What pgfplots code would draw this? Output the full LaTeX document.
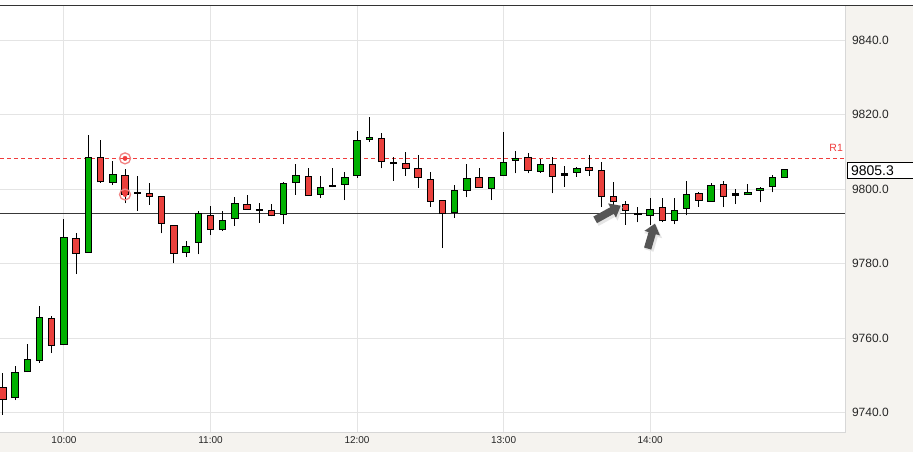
\documentclass[border=0pt]{standalone}
\usepackage{pgfplots}
\pgfplotsset{compat=1.18}
\usepackage{pgfplotstable}
\usepackage{fontspec}
\setmainfont{Liberation Sans}
\usetikzlibrary{arrows.meta}
\definecolor{panel}{RGB}{245,243,239}
\definecolor{gridc}{RGB}{228,228,228}
\definecolor{borderc}{RGB}{215,215,215}
\definecolor{cgreen}{RGB}{0,176,0}
\definecolor{cred}{RGB}{234,64,60}
\definecolor{rline}{RGB}{240,60,60}
\definecolor{arrowc}{RGB}{85,85,85}
\definecolor{circc}{RGB}{242,130,130}

% up candles: x open high low close
\pgfplotstableread{
x o h l c
-4 9744.1 9752.7 9743.4 9750.9
-3 9751.0 9758.5 9750.9 9754.2
-2 9754.1 9768.7 9753.5 9765.6
0 9758.3 9792.0 9758.1 9787.1
2 9783.1 9814.6 9783.1 9808.6
4 9801.9 9807.6 9801.2 9804.1
10 9783.1 9786.0 9781.7 9784.7
11 9785.8 9794.3 9782.5 9793.5
13 9789.2 9794.3 9788.8 9791.7
14 9792.2 9797.8 9790.2 9796.2
18 9793.3 9802.0 9790.6 9801.6
19 9801.9 9806.7 9798.6 9803.7
21 9798.7 9803.6 9797.6 9800.5
23 9801.3 9804.6 9797.1 9803.2
24 9803.7 9815.7 9803.1 9813.1
25 9813.5 9819.5 9812.8 9814.0
32 9793.8 9801.1 9792.4 9799.7
33 9799.7 9806.7 9797.8 9802.9
35 9800.3 9803.2 9797.1 9803.2
36 9803.7 9815.3 9803.7 9807.2
37 9807.8 9810.2 9804.3 9808.2
39 9804.8 9808.0 9804.5 9806.7
42 9804.6 9806.1 9803.4 9805.5
48 9793.0 9797.6 9790.5 9794.6
50 9791.7 9797.6 9790.6 9794.3
51 9794.9 9802.2 9793.0 9798.6
53 9796.8 9801.8 9796.8 9801.1
56 9798.5 9801.4 9798.5 9799.2
57 9799.8 9800.7 9796.5 9800.2
58 9800.8 9803.9 9799.2 9803.2
59 9803.2 9805.3 9803.2 9805.3
}\up

% down candles: x open high low close
\pgfplotstableread{
x o h l c
-5 9746.8 9750.6 9739.5 9743.6
-1 9765.4 9766.0 9756.0 9758.1
1 9786.8 9788.2 9777.2 9782.8
3 9808.6 9813.2 9801.8 9802.0
5 9803.7 9805.4 9796.2 9798.6
7 9799.0 9801.8 9795.8 9798.2
8 9798.1 9798.1 9788.2 9790.9
9 9790.3 9790.3 9780.1 9782.8
12 9793.0 9795.5 9787.7 9789.2
15 9796.0 9798.6 9794.6 9794.6
17 9794.4 9796.0 9792.7 9792.9
20 9803.5 9805.6 9798.3 9798.3
26 9813.7 9815.0 9805.6 9807.4
28 9807.0 9809.9 9803.7 9805.6
29 9805.6 9809.2 9800.4 9803.2
30 9802.7 9804.6 9795.2 9796.8
31 9796.9 9797.1 9784.2 9793.5
34 9803.2 9805.6 9800.4 9800.4
38 9808.6 9809.7 9804.3 9805.1
40 9806.7 9808.6 9798.9 9803.5
43 9805.9 9809.2 9803.7 9805.1
44 9805.1 9807.4 9795.2 9798.1
45 9798.1 9802.0 9794.4 9796.6
46 9796.0 9796.9 9790.5 9794.2
49 9795.1 9797.6 9791.1 9791.5
52 9798.9 9799.4 9795.3 9797.0
54 9801.3 9802.3 9795.2 9798.2
}\down

% doji candles: x value high low
\pgfplotstableread{
x v h l
6 9799.1 9803.6 9794.3
16 9794.5 9796.3 9791.0
22 9800.9 9805.8 9800.5
27 9807.0 9808.7 9802.3
41 9804.0 9806.2 9800.7
47 9793.4 9795.3 9791.1
55 9798.6 9800.1 9796.0
}\doji

\pgfplotsset{
  wick/.style={draw=none, mark=none, mark size=0pt, forget plot,
    error bars/.cd, y dir=plus, y explicit, error mark=none,
    error bar style={draw=black, solid, line width=1pt}},
  body/.style 2 args={draw=none, mark=none, mark size=0pt, forget plot,
    error bars/.cd, y dir=plus, y explicit, error mark=none,
    error bar style={draw=#1, solid, line width=#2}},
}

\begin{document}
\begin{tikzpicture}
\useasboundingbox (0,-19.7pt) rectangle (913pt,432.3pt);
\fill[panel] (0,-19.7pt) rectangle (913pt,432.3pt);
\fill[white] (0,427pt) rectangle (913pt,432.3pt);
\begin{axis}[
  at={(0,0)}, anchor=south west,
  scale only axis, width=845.6pt, height=426.8pt,
  xmin=-5.24, xmax=64.01, ymin=9734.77, ymax=9849.34,
  axis background/.style={fill=white},
  axis line style={draw=none},
  major tick length=0pt,
  xtick={0,12,24,36,48},
  xticklabels={10:00,11:00,12:00,13:00,14:00},
  ytick={9740,9760,9780,9800,9820,9840},
  yticklabels={9740.0,9760.0,9780.0,9800.0,9820.0,9840.0},
  yticklabel pos=right,
  yticklabel style={anchor=west, inner sep=0pt, xshift=6.2pt, font=\fontsize{12}{14}\selectfont, text=black!85},
  xticklabel style={anchor=center, inner sep=0pt, yshift=-8.2pt, font=\fontsize{10}{12}\selectfont, text=black!85},
  grid=major,
  major grid style={gridc, line width=1pt},
]
% reference lines
\addplot[black!78, line width=1pt, forget plot] coordinates {(-5.24,9793.6) (64.01,9793.6)};
\addplot[rline, line width=1pt, dash pattern=on 4pt off 3pt, forget plot] coordinates {(-5.24,9808.3) (64.01,9808.3)};
% wicks
\addplot[wick] table[x=x, y=l, y error expr={\thisrow{h}-\thisrow{l}}] {\up};
\addplot[wick] table[x=x, y=l, y error expr={\thisrow{h}-\thisrow{l}}] {\down};
\addplot[wick] table[x=x, y=l, y error expr={\thisrow{h}-\thisrow{l}}] {\doji};
% bodies: black outline
\addplot[body={black}{7.4pt}] table[x=x, y expr={\thisrow{o}-0.134}, y error expr={\thisrow{c}-\thisrow{o}+0.268}] {\up};
\addplot[body={black}{7.4pt}] table[x=x, y expr={\thisrow{c}-0.134}, y error expr={\thisrow{o}-\thisrow{c}+0.268}] {\down};
\addplot[body={black}{7.4pt}] table[x=x, y expr={\thisrow{v}-0.3}, y error expr={0.6}] {\doji};
% bodies: colour fill
\addplot[body={cgreen}{5.4pt}] table[x=x, y expr={\thisrow{o}+0.134}, y error expr={max(\thisrow{c}-\thisrow{o}-0.268,0.05)}] {\up};
\addplot[body={cred}{5.4pt}] table[x=x, y expr={\thisrow{c}+0.134}, y error expr={max(\thisrow{o}-\thisrow{c}-0.268,0.05)}] {\down};
% signal circles
\addplot[only marks, mark=o, mark size=5.5pt, mark options={draw=circc, line width=1.3pt, fill=none}, forget plot] coordinates {(5,9808.3) (5,9798.6)};
\addplot[only marks, mark=*, mark size=2.2pt, mark options={draw=rline, fill=rline}, forget plot] coordinates {(5,9808.3) (5,9798.6)};
% arrows
\addplot[white!80!gray, line width=9.5pt, -{Triangle[width=18pt,length=11pt]}, forget plot] coordinates {(43.6,9791.3) (45.75,9795.2)};
\addplot[arrowc, line width=7.5pt, -{Triangle[width=15.5pt,length=10pt]}, forget plot] coordinates {(43.5,9791.8) (45.6,9795.6)};
\addplot[white!80!gray, line width=9.5pt, -{Triangle[width=18pt,length=11pt]}, forget plot] coordinates {(47.9,9783.6) (48.5,9790.4)};
\addplot[arrowc, line width=7.5pt, -{Triangle[width=15.5pt,length=10pt]}, forget plot] coordinates {(47.8,9784.1) (48.4,9790.8)};
% R1 label
\node[anchor=east, inner sep=0pt, text=rline, font=\fontsize{10.5}{12}\selectfont] at (axis cs:63.8,9811.1) {R1};
\coordinate (pb) at (axis cs:64.01,9805.0);
\end{axis}
% plot borders
\draw[borderc, line width=1pt] (845.6pt,0) -- (845.6pt,427pt);
\draw[borderc, line width=1pt] (0,0) -- (845.6pt,0);
\draw[black!80, line width=1pt] (0,427pt) -- (913pt,427pt);
% current price box
\draw[black, fill=white, line width=1pt] ([xshift=1.4pt, yshift=-8.3pt]pb) rectangle ([xshift=80pt, yshift=8.3pt]pb);
\node[anchor=west, inner sep=0pt, font=\fontsize{14}{16}\selectfont] at ([xshift=5.3pt]pb) {9805.3};
\end{tikzpicture}
\end{document}
